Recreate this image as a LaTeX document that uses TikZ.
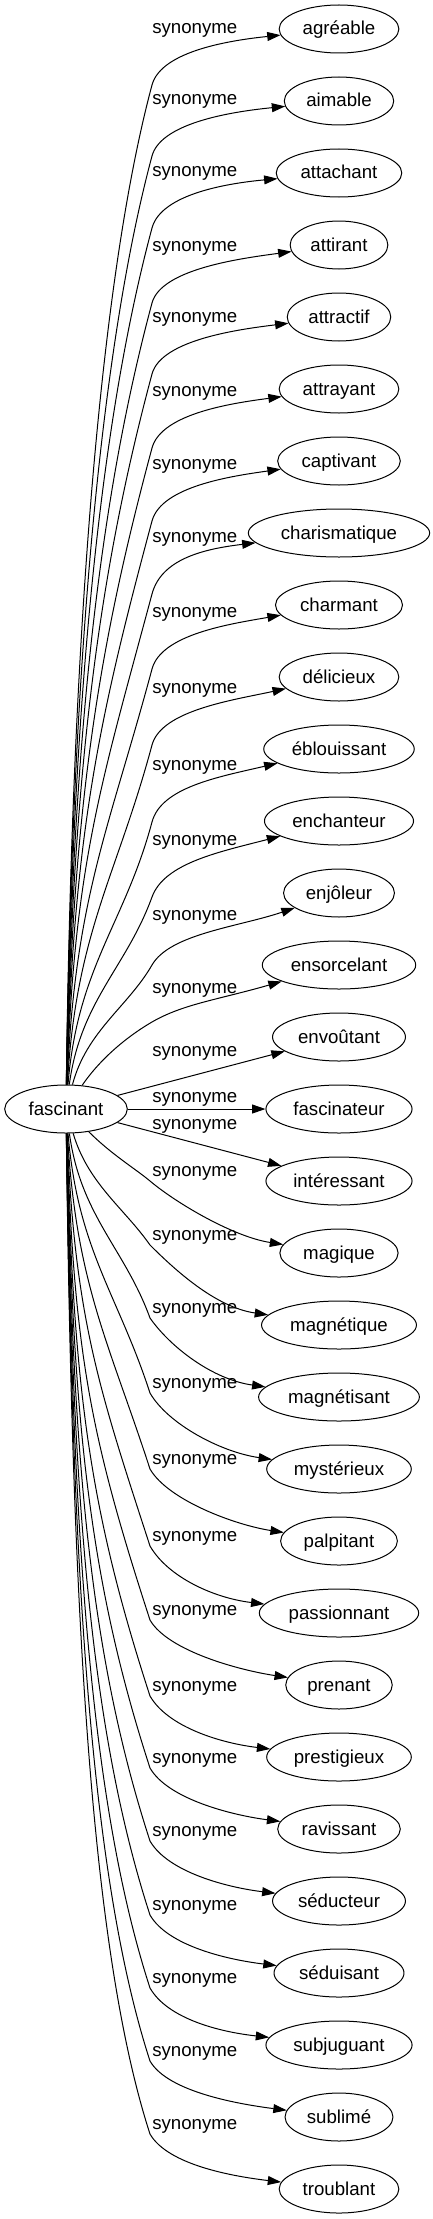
\documentclass[tikz,border=0pt]{standalone}
\usepackage{fontspec}
\setmainfont{Liberation Sans}
\usepackage{tikz}
\usetikzlibrary{shapes.geometric, arrows.meta, calc}

\begin{document}
\begin{tikzpicture}[
  x=0.75pt, y=-0.75pt,
  word/.style={ellipse, draw=black, line width=0.75pt, font=\fontsize{14}{17}\selectfont,
               inner xsep=4.5pt, inner ysep=2pt, minimum height=36pt,
               text height=10pt, text depth=1pt},
  rel/.style={anchor=west, inner sep=0pt, font=\fontsize{14}{17}\selectfont},
  arr/.style={-{Triangle[length=10pt, width=6.7pt]}, line width=0.75pt},
]
  \useasboundingbox (0,0) rectangle (432,2219);

  % Source word
  \node[word] (fas) at (66,1109) {fascinant};

  % Synonyms
  \node[word] (agr) at (339,29)   {agréable};
  \node[word] (aim) at (339,101)  {aimable};
  \node[word] (att) at (339,173)  {attachant};
  \node[word] (atr) at (339,245)  {attirant};
  \node[word] (atf) at (339,317)  {attractif};
  \node[word] (aty) at (339,389)  {attrayant};
  \node[word] (cap) at (339,461)  {captivant};
  \node[word] (cha) at (339,533)  {charismatique};
  \node[word] (chm) at (339,605)  {charmant};
  \node[word] (del) at (339,677)  {délicieux};
  \node[word] (ebl) at (339,749)  {éblouissant};
  \node[word] (enc) at (339,821)  {enchanteur};
  \node[word] (enj) at (339,893)  {enjôleur};
  \node[word] (ens) at (339,965)  {ensorcelant};
  \node[word] (env) at (339,1037) {envoûtant};
  \node[word] (fsc) at (339,1109) {fascinateur};
  \node[word] (int) at (339,1181) {intéressant};
  \node[word] (mag) at (339,1253) {magique};
  \node[word] (mgq) at (339,1325) {magnétique};
  \node[word] (mgs) at (339,1397) {magnétisant};
  \node[word] (mys) at (339,1469) {mystérieux};
  \node[word] (pal) at (339,1541) {palpitant};
  \node[word] (pas) at (339,1613) {passionnant};
  \node[word] (pre) at (339,1685) {prenant};
  \node[word] (pst) at (339,1757) {prestigieux};
  \node[word] (rav) at (339,1829) {ravissant};
  \node[word] (sdc) at (339,1901) {séducteur};
  \node[word] (sds) at (339,1973) {séduisant};
  \node[word] (sub) at (339,2045) {subjuguant};
  \node[word] (sbl) at (339,2117) {sublimé};
  \node[word] (tro) at (339,2189) {troublant};

  % Straight edges
  \node[rel] (lenv) at (152,1053) {synonyme};
  \node[rel] (lfsc) at (152,1099) {synonyme};
  \node[rel] (lint) at (152,1126) {synonyme};
  \draw[arr] (fas) -- (env);
  \draw[arr] (fas) -- (fsc);
  \draw[arr] (fas) -- (int);

  % Edges going up
  \foreach \nm/\ly/\ny/\dm/\ang in {agr/30/29/55/75, aim/101/101/55/75,
      att/173/173/55/75, atr/248/245/55/75, atf/319/317/55/75,
      aty/393/389/55/75, cap/466/461/55/75, cha/539/533/55/75,
      chm/614/605/55/75, del/690/677/55/75, ebl/767/749/55/75,
      enc/842/821/55/70, enj/917/893/48/60, ens/990/965/32/30}{
    \pgfmathsetmacro\my{\ly+\dm}
    \pgfmathsetmacro\len{1085-\my}
    \pgfmathsetmacro\kk{min(200,0.4*\len)}
    \pgfmathsetmacro\ax{70+2000/\len}
    \pgfmathsetmacro\ay{1085-0.45*\len}
    \pgfmathsetmacro\bx{152-\kk*cos(\ang)}
    \pgfmathsetmacro\by{\my+\kk*sin(\ang)}
    \pgfmathsetmacro\cx{152+36*cos(\ang)}
    \pgfmathsetmacro\cy{\my-36*sin(\ang)}
    \pgfmathsetmacro\dy{\ly-\ny+10}
    \node[rel] (l\nm) at (152,\ly) {synonyme};
    \draw[arr] (fas) .. controls (\ax,\ay) and (\bx,\by) .. (152,\my)
      .. controls (\cx,\cy) and ($(\nm.west)+(-45,\dy)$) .. (\nm);
  }

  % Edges going down
  \foreach \nm/\ly/\ny/\ang/\bng in {mag/1173/1253/40/40, mgq/1237/1325/45/55,
      mgs/1310/1397/55/70, mys/1385/1469/60/72, pal/1461/1541/60/72,
      pas/1538/1613/60/72, pre/1612/1685/60/72, pst/1688/1757/60/72,
      rav/1760/1829/60/72, sdc/1833/1901/60/72, sds/1907/1973/60/72,
      sub/1980/2045/60/72, sbl/2053/2117/60/72, tro/2126/2189/60/72}{
    \pgfmathsetmacro\my{\ly+8}
    \pgfmathsetmacro\len{\my-1133}
    \pgfmathsetmacro\kk{min(200,0.4*\len)}
    \pgfmathsetmacro\ax{70+2000/\len}
    \pgfmathsetmacro\ay{1133+0.45*\len}
    \pgfmathsetmacro\bx{150-\kk*cos(\bng)}
    \pgfmathsetmacro\by{\my-\kk*sin(\bng)}
    \pgfmathsetmacro\cx{150+36*cos(\ang)}
    \pgfmathsetmacro\cy{\my+36*sin(\ang)}
    \pgfmathsetmacro\dy{(\ly-\ny)/5}
    \node[rel] (l\nm) at (152,\ly) {synonyme};
    \draw[arr] (fas) .. controls (\ax,\ay) and (\bx,\by) .. (150,\my)
      .. controls (\cx,\cy) and ($(\nm.west)+(-45,\dy)$) .. (\nm);
  }
\end{tikzpicture}
\end{document}
